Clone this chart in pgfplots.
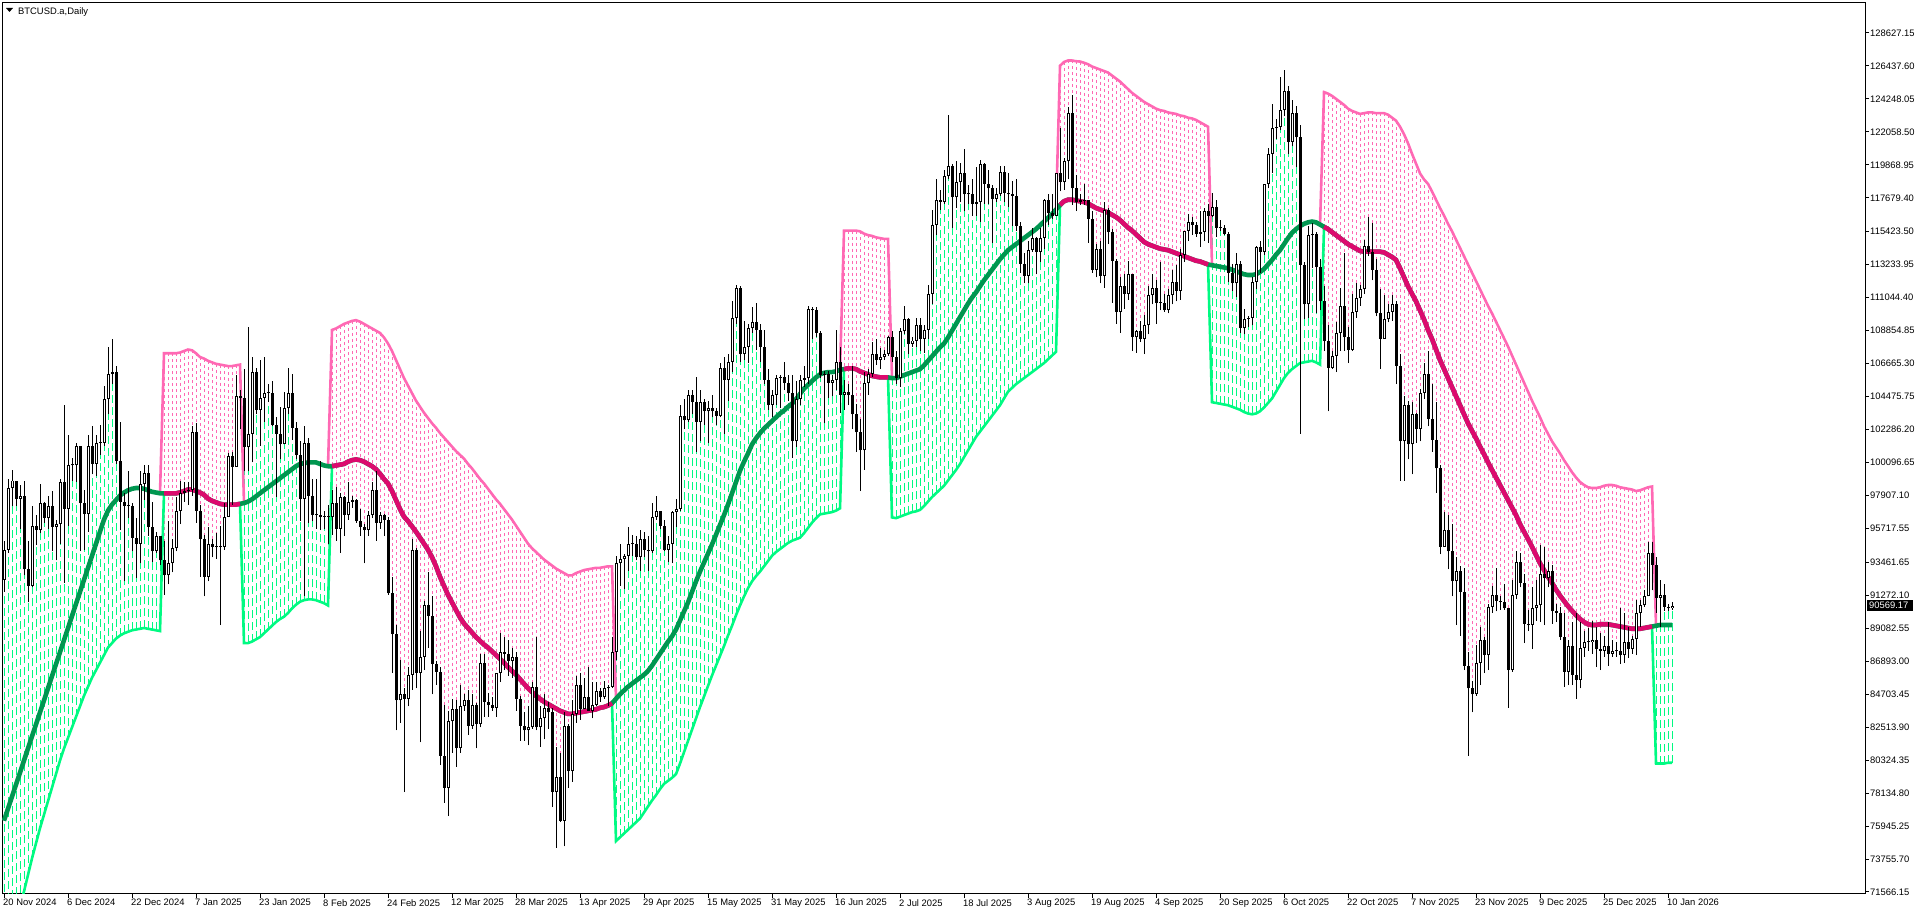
\documentclass[border=0pt]{standalone}
\usepackage{pgfplots}
\pgfplotsset{compat=1.18}
\usepackage{pgfplotstable}
\usepackage{fontspec}
\setmainfont{Liberation Sans}
\definecolor{mag}{RGB}{0,150,80}
\definecolor{mapk}{RGB}{220,10,110}
\definecolor{bgr}{RGB}{0,250,130}
\definecolor{bpk}{RGB}{255,105,180}
\pgfplotstableread{
i o h l c ma b st
0 92.3 94.9 91.5 94.3 76.3 66.8 1
1 94.3 99.0 94.1 98.4 77.1 67.8 1
2 98.4 99.6 97.2 98.9 77.9 68.8 1
3 98.9 98.9 97.2 97.7 78.7 69.8 1
4 97.7 98.6 95.7 97.9 79.5 70.7 1
5 97.9 98.9 92.6 93.0 80.3 71.6 1
6 93.0 94.9 90.8 91.9 81.1 72.7 1
7 91.9 97.2 91.8 95.9 81.9 73.8 1
8 95.9 96.6 94.6 95.6 82.7 74.8 1
9 95.6 98.7 95.4 97.4 83.5 75.8 1
10 97.4 97.5 96.1 96.4 84.3 76.7 1
11 96.4 97.9 95.7 97.2 85.1 77.6 1
12 97.2 98.2 94.2 95.8 85.9 78.5 1
13 95.8 96.3 93.6 96.0 86.7 79.4 1
14 96.0 99.0 94.7 98.8 87.5 80.3 1
15 98.8 103.9 92.1 97.0 88.3 81.1 1
16 97.0 101.9 95.9 99.9 89.1 81.8 1
17 99.9 100.4 98.9 99.9 89.9 82.5 1
18 99.9 101.4 98.8 101.2 90.7 83.2 1
19 101.2 101.2 94.2 97.4 91.5 83.9 1
20 97.4 98.3 94.3 96.7 92.3 84.6 1
21 96.7 101.9 95.5 101.2 93.1 85.2 1
22 101.2 102.5 99.3 100.0 93.9 85.8 1
23 100.0 101.9 99.2 101.4 94.7 86.3 1
24 101.4 102.6 100.6 101.4 95.5 86.8 1
25 101.4 105.2 101.2 104.3 96.3 87.3 1
26 104.3 107.8 103.3 106.0 96.9 87.8 1
27 106.0 108.3 105.3 106.1 97.3 88.1 1
28 106.1 106.5 100.0 100.2 97.6 88.4 1
29 100.2 102.8 95.6 97.5 97.9 88.6 1
30 97.5 98.1 92.2 97.2 98.1 88.75 1
31 97.2 99.5 96.4 97.2 98.25 88.85 1
32 97.2 97.4 94.2 95.1 98.35 88.95 1
33 95.1 96.4 92.4 94.7 98.4 89.0 1
34 94.7 99.5 93.4 98.7 98.4 89.05 1
35 98.7 99.9 97.6 99.4 98.35 89.1 1
36 99.4 99.9 95.2 95.8 98.25 89.05 1
37 95.8 97.5 93.5 94.2 98.15 89.0 1
38 94.2 95.5 94.1 95.2 98.1 88.95 1
39 95.2 95.2 93.3 93.6 98.05 88.9 1
40 93.6 94.9 91.3 92.6 98.05 107.35 -1
41 92.6 96.2 92.0 93.4 98.05 107.35 -1
42 93.4 95.0 92.8 94.4 98.05 107.35 -1
43 94.4 97.8 94.2 96.9 98.05 107.35 -1
44 96.9 98.9 96.0 98.1 98.1 107.4 -1
45 98.1 98.8 97.5 98.2 98.2 107.5 -1
46 98.2 98.8 97.3 98.3 98.3 107.6 -1
47 98.3 102.5 97.9 102.1 98.3 107.55 -1
48 102.1 102.7 96.1 96.9 98.2 107.35 -1
49 96.9 97.3 92.5 95.0 98.1 107.1 -1
50 95.0 95.3 91.2 92.5 97.95 107.0 -1
51 92.5 95.8 92.2 94.7 97.7 106.85 -1
52 94.7 95.0 93.8 94.5 97.55 106.75 -1
53 94.5 95.4 93.7 94.5 97.45 106.65 -1
54 94.5 95.9 89.3 94.5 97.35 106.6 -1
55 94.5 97.4 94.3 96.5 97.3 106.55 -1
56 96.5 100.7 96.5 100.5 97.3 106.5 -1
57 100.5 100.8 97.3 99.8 97.3 106.5 -1
58 99.8 105.9 99.8 104.5 97.3 106.55 -1
59 104.5 104.9 102.3 104.4 97.35 106.6 -1
60 104.4 106.3 99.5 101.1 97.4 88.1 1
61 101.1 109.1 99.5 102.0 97.5 88.1 1
62 102.0 107.1 100.1 106.1 97.65 88.2 1
63 106.1 106.4 103.3 103.6 97.85 88.35 1
64 103.6 106.9 101.2 104.4 98.05 88.5 1
65 104.4 107.1 102.8 104.7 98.25 88.75 1
66 104.7 105.3 104.1 104.7 98.45 89.0 1
67 104.7 105.5 102.5 102.6 98.65 89.25 1
68 102.6 103.1 97.8 102.0 98.85 89.5 1
69 102.0 103.8 100.3 101.3 99.05 89.7 1
70 101.3 104.8 101.3 103.7 99.25 89.85 1
71 103.7 106.4 103.3 104.7 99.45 90.1 1
72 104.7 106.0 101.6 102.4 99.65 90.4 1
73 102.4 102.8 100.3 100.6 99.85 90.65 1
74 100.6 101.5 96.2 97.7 100.0 90.85 1
75 97.7 102.5 91.2 101.4 100.05 90.95 1
76 101.4 101.7 96.1 97.9 100.1 91.0 1
77 97.9 99.0 96.2 96.6 100.1 91.0 1
78 96.6 99.0 95.7 96.6 100.1 90.95 1
79 96.6 100.2 95.6 96.5 100.0 90.85 1
80 96.5 96.9 95.7 96.5 99.9 90.75 1
81 96.5 97.3 94.7 96.5 99.85 90.6 1
82 96.5 98.3 95.3 97.4 99.85 108.9 -1
83 97.4 98.5 94.9 95.7 99.9 109.0 -1
84 95.7 98.1 94.1 97.8 99.95 109.15 -1
85 97.8 97.9 95.2 96.6 100.0 109.3 -1
86 96.6 98.8 96.3 97.5 100.15 109.4 -1
87 97.5 97.9 97.1 97.6 100.25 109.5 -1
88 97.6 97.7 96.1 96.2 100.3 109.55 -1
89 96.2 97.0 95.2 95.8 100.25 109.45 -1
90 95.8 96.0 93.4 95.6 100.15 109.3 -1
91 95.6 96.9 95.2 96.6 100.0 109.15 -1
92 96.6 98.8 96.4 98.3 99.85 109.0 -1
93 98.3 99.5 94.9 96.1 99.65 108.85 -1
94 96.1 96.8 95.7 96.6 99.35 108.7 -1
95 96.6 96.7 95.2 96.3 99.0 108.4 -1
96 96.3 96.5 91.3 91.4 98.7 108.0 -1
97 91.4 92.5 86.1 88.7 98.2 107.5 -1
98 88.7 89.3 82.3 84.3 97.6 106.9 -1
99 84.3 87.0 82.8 84.7 97.0 106.3 -1
100 84.7 85.1 78.2 84.4 96.5 105.7 -1
101 84.4 86.5 83.9 86.0 96.2 105.2 -1
102 86.0 95.0 85.0 94.3 95.85 104.7 -1
103 94.3 94.4 85.1 86.1 95.5 104.2 -1
104 86.1 88.9 81.5 87.2 95.1 103.8 -1
105 87.2 90.9 86.3 90.6 94.7 103.4 -1
106 90.6 92.8 87.8 89.9 94.3 103.05 -1
107 89.9 91.2 84.7 86.7 93.8 102.7 -1
108 86.7 86.9 85.3 86.2 93.2 102.4 -1
109 86.2 86.5 80.0 80.6 92.5 102.05 -1
110 80.6 84.0 77.5 78.5 91.9 101.75 -1
111 78.5 83.6 76.6 82.9 91.3 101.45 -1
112 82.9 84.4 80.8 83.7 90.8 101.15 -1
113 83.7 84.3 79.9 81.1 90.3 100.85 -1
114 81.1 85.3 80.8 83.9 89.8 100.6 -1
115 83.9 84.7 83.6 84.3 89.4 100.35 -1
116 84.3 85.0 82.0 82.6 89.1 100.0 -1
117 82.6 84.7 82.4 84.0 88.8 99.7 -1
118 84.0 84.1 81.1 82.7 88.5 99.35 -1
119 82.7 87.4 82.5 86.8 88.25 99.0 -1
120 86.8 87.4 83.2 84.2 88.0 98.7 -1
121 84.2 84.8 83.2 84.0 87.8 98.35 -1
122 84.0 84.5 83.6 83.8 87.55 98.0 -1
123 83.8 86.1 83.2 86.1 87.3 97.65 -1
124 86.1 88.8 85.5 87.5 87.05 97.35 -1
125 87.5 88.5 86.3 87.4 86.8 97.0 -1
126 87.4 88.3 85.9 86.9 86.5 96.65 -1
127 86.9 87.8 85.8 87.2 86.25 96.3 -1
128 87.2 87.5 83.6 84.4 86.0 95.9 -1
129 84.4 84.6 81.6 82.6 85.7 95.5 -1
130 82.6 83.5 81.6 82.3 85.4 95.1 -1
131 82.3 83.9 81.3 82.5 85.1 94.7 -1
132 82.5 85.5 82.4 85.2 84.85 94.4 -1
133 85.2 88.5 82.3 82.5 84.6 94.15 -1
134 82.5 83.9 81.2 83.1 84.4 93.9 -1
135 83.1 84.7 81.7 83.8 84.2 93.65 -1
136 83.8 84.2 82.4 83.5 84.05 93.45 -1
137 83.5 83.8 77.2 78.2 83.9 93.25 -1
138 78.2 81.2 74.5 79.2 83.75 93.05 -1
139 79.2 80.8 76.2 76.3 83.6 92.9 -1
140 76.3 83.5 74.6 82.6 83.5 92.75 -1
141 82.6 82.7 78.5 79.6 83.4 92.6 -1
142 79.6 84.3 78.9 83.4 83.4 92.6 -1
143 83.4 85.9 82.8 85.3 83.45 92.75 -1
144 85.3 86.1 83.0 83.7 83.5 92.85 -1
145 83.7 85.8 83.7 84.5 83.55 92.95 -1
146 84.5 86.5 83.6 83.6 83.6 93.0 -1
147 83.6 85.5 83.1 84.0 83.65 93.05 -1
148 84.0 85.5 83.9 84.9 83.7 93.1 -1
149 84.9 85.1 84.2 84.5 83.8 93.1 -1
150 84.5 85.6 84.4 85.1 83.85 93.15 -1
151 85.1 85.3 83.9 85.2 83.95 93.2 -1
152 85.2 88.5 85.1 87.5 84.1 93.2 -1
153 87.5 93.9 87.0 93.4 84.4 74.95 1
154 93.4 94.7 91.9 93.7 84.7 75.2 1
155 93.7 94.0 91.7 93.9 84.95 75.45 1
156 93.9 95.8 92.9 94.7 85.2 75.7 1
157 94.7 95.3 93.9 94.7 85.4 75.95 1
158 94.7 95.2 93.6 93.8 85.6 76.2 1
159 93.8 95.6 92.9 95.0 85.8 76.45 1
160 95.0 95.5 93.8 94.3 86.0 76.85 1
161 94.3 95.2 92.9 94.2 86.25 77.25 1
162 94.2 97.4 94.1 96.5 86.6 77.65 1
163 96.5 97.9 96.3 96.9 87.0 78.0 1
164 96.9 96.9 95.7 95.9 87.4 78.4 1
165 95.9 96.3 94.2 94.3 87.8 78.75 1
166 94.3 95.2 93.5 94.7 88.2 78.95 1
167 94.7 96.9 93.4 96.8 88.55 79.15 1
168 96.8 97.7 95.8 97.0 89.0 79.4 1
169 97.0 103.9 96.9 103.2 89.6 80.1 1
170 103.2 104.3 102.3 102.9 90.2 80.85 1
171 102.9 104.9 102.8 104.6 90.8 81.6 1
172 104.6 104.9 103.3 104.1 91.5 82.35 1
173 104.1 105.8 100.8 102.8 92.2 83.1 1
174 102.8 104.9 101.5 104.1 92.85 83.85 1
175 104.1 104.3 102.6 103.5 93.45 84.55 1
176 103.5 104.2 101.4 103.7 94.05 85.25 1
177 103.7 104.6 103.1 103.5 94.65 85.95 1
178 103.5 103.7 102.6 103.2 95.3 86.6 1
179 103.2 106.7 103.1 106.4 95.95 87.25 1
180 106.4 107.1 102.0 105.6 96.6 87.9 1
181 105.6 107.3 104.2 106.8 97.3 88.6 1
182 106.8 110.8 106.1 109.7 98.05 89.25 1
183 109.7 111.9 109.3 111.7 98.8 89.95 1
184 111.7 111.8 106.8 107.3 99.55 90.6 1
185 107.3 109.5 106.9 107.8 100.15 91.2 1
186 107.8 109.3 106.7 109.0 100.7 91.75 1
187 109.0 110.4 108.7 109.4 101.3 92.2 1
188 109.4 110.7 107.6 108.9 101.7 92.55 1
189 108.9 109.3 106.8 107.8 102.05 92.85 1
190 107.8 108.9 105.3 105.6 102.35 93.2 1
191 105.6 106.3 103.6 103.9 102.6 93.55 1
192 103.9 104.9 103.1 104.6 102.85 93.9 1
193 104.6 105.9 103.9 105.7 103.1 94.15 1
194 105.7 105.9 103.7 105.8 103.35 94.35 1
195 105.8 106.8 104.9 105.4 103.55 94.55 1
196 105.4 105.9 104.2 104.7 103.8 94.75 1
197 104.7 105.9 100.4 101.5 104.0 94.9 1
198 101.5 105.5 101.1 104.3 104.3 95.0 1
199 104.3 105.9 103.9 105.6 104.65 95.1 1
200 105.6 106.5 105.1 105.7 105.0 95.4 1
201 105.7 110.5 105.3 110.3 105.25 95.75 1
202 110.3 110.4 108.3 110.2 105.5 96.1 1
203 110.2 110.4 108.4 108.7 105.75 96.4 1
204 108.7 108.8 105.7 105.9 105.95 96.65 1
205 105.9 106.2 102.7 106.0 106.05 96.7 1
206 106.0 106.2 104.4 105.4 106.1 96.75 1
207 105.4 105.9 104.5 105.6 106.1 96.8 1
208 105.6 108.9 104.9 106.8 106.15 96.9 1
209 106.8 107.8 103.4 104.6 106.25 97.05 1
210 104.6 105.6 103.6 104.8 106.3 115.5 -1
211 104.8 105.3 103.9 104.6 106.35 115.5 -1
212 104.6 106.5 102.3 103.3 106.35 115.5 -1
213 103.3 104.0 100.8 102.1 106.3 115.5 -1
214 102.1 103.0 98.2 100.9 106.15 115.45 -1
215 100.9 106.1 99.6 105.4 106.05 115.3 -1
216 105.4 106.3 104.6 106.0 105.95 115.2 -1
217 106.0 108.1 105.8 107.3 105.85 115.15 -1
218 107.3 108.3 106.6 106.9 105.8 115.05 -1
219 106.9 107.7 106.3 107.1 105.75 115.0 -1
220 107.1 107.6 106.9 107.3 105.75 114.95 -1
221 107.3 108.5 107.2 108.4 105.75 114.95 -1
222 108.4 108.8 106.8 107.1 105.7 96.45 1
223 107.1 107.5 105.3 105.7 105.7 96.4 1
224 105.7 109.0 105.1 108.8 105.8 96.5 1
225 108.8 110.5 108.6 109.6 105.9 96.6 1
226 109.6 109.7 107.3 108.0 106.0 96.7 1
227 108.0 108.4 107.8 108.2 106.1 96.8 1
228 108.2 109.7 107.8 109.2 106.2 96.85 1
229 109.2 109.7 107.5 108.3 106.3 96.95 1
230 108.3 109.2 107.4 108.9 106.55 97.2 1
231 108.9 111.9 108.3 111.3 106.85 97.5 1
232 111.3 116.9 110.6 115.9 107.15 97.8 1
233 115.9 118.9 115.2 117.5 107.45 98.05 1
234 117.5 118.2 116.9 117.4 107.75 98.3 1
235 117.4 119.5 117.3 119.1 108.0 98.55 1
236 119.1 123.2 118.9 119.8 108.4 98.9 1
237 119.8 119.9 115.7 117.7 108.85 99.25 1
238 117.7 120.1 117.0 118.7 109.3 99.6 1
239 118.7 120.0 117.4 119.3 109.75 100.0 1
240 119.3 120.9 116.8 117.9 110.2 100.45 1
241 117.9 118.5 117.3 117.9 110.65 100.9 1
242 117.9 118.9 116.5 117.3 111.05 101.35 1
243 117.3 119.7 116.5 117.4 111.4 101.8 1
244 117.4 120.2 116.1 119.9 111.8 102.15 1
245 119.9 120.0 117.3 118.6 112.2 102.5 1
246 118.6 119.5 117.3 118.3 112.55 102.85 1
247 118.3 118.5 114.7 117.6 112.9 103.2 1
248 117.6 118.3 117.4 117.9 113.25 103.55 1
249 117.9 119.8 117.8 119.4 113.6 103.9 1
250 119.4 119.8 117.4 118.0 113.9 104.35 1
251 118.0 119.3 117.1 117.9 114.2 104.8 1
252 117.9 118.8 115.8 117.8 114.4 105.05 1
253 117.8 118.9 115.5 115.8 114.6 105.3 1
254 115.8 116.1 112.7 113.3 114.8 105.5 1
255 113.3 114.0 112.0 112.5 115.0 105.7 1
256 112.5 114.8 112.0 114.2 115.2 105.9 1
257 114.2 115.7 114.1 115.0 115.4 106.1 1
258 115.0 115.1 112.6 114.1 115.6 106.3 1
259 114.1 115.7 113.4 115.0 115.85 106.5 1
260 115.0 117.6 114.3 117.5 116.1 106.7 1
261 117.5 117.9 115.9 116.7 116.35 106.95 1
262 116.7 117.9 116.3 116.5 116.6 107.2 1
263 116.5 119.3 116.5 119.3 116.9 107.45 1
264 119.3 122.3 118.1 118.7 117.2 126.45 -1
265 118.7 120.3 118.2 120.1 117.45 126.7 -1
266 120.1 123.7 118.9 123.3 117.55 126.8 -1
267 123.3 124.5 117.2 118.3 117.55 126.8 -1
268 118.3 119.2 116.8 117.4 117.5 126.75 -1
269 117.4 117.9 117.2 117.5 117.45 126.73 -1
270 117.5 118.6 117.2 117.5 117.4 126.65 -1
271 117.5 117.5 114.7 116.3 117.3 126.55 -1
272 116.3 116.8 112.7 112.9 117.15 126.4 -1
273 112.9 114.6 112.4 114.3 117.0 126.3 -1
274 114.3 114.8 112.0 112.5 116.9 126.2 -1
275 112.5 117.4 111.7 116.9 116.8 126.1 -1
276 116.9 117.0 114.6 115.4 116.7 126.0 -1
277 115.4 115.6 110.7 113.5 116.55 125.8 -1
278 113.5 113.6 109.3 110.1 116.4 125.6 -1
279 110.1 112.4 108.7 111.8 116.2 125.4 -1
280 111.8 112.6 110.3 111.3 115.95 125.15 -1
281 111.3 113.5 110.9 112.6 115.7 124.9 -1
282 112.6 112.6 107.5 108.4 115.5 124.65 -1
283 108.4 108.9 107.4 108.8 115.25 124.45 -1
284 108.8 109.5 108.1 108.3 115.0 124.25 -1
285 108.3 109.9 107.3 109.2 114.75 124.05 -1
286 109.2 111.8 108.6 111.2 114.6 123.9 -1
287 111.2 112.6 110.6 111.7 114.5 123.75 -1
288 111.7 112.2 109.3 110.7 114.4 123.6 -1
289 110.7 113.4 110.2 110.7 114.3 123.5 -1
290 110.7 111.3 110.1 110.2 114.25 123.45 -1
291 110.2 111.6 110.0 111.2 114.2 123.35 -1
292 111.2 112.9 110.6 112.1 114.1 123.3 -1
293 112.1 113.2 110.8 111.5 114.0 123.25 -1
294 111.5 114.3 110.9 113.9 113.9 123.15 -1
295 113.9 115.5 113.4 115.5 113.8 123.1 -1
296 115.5 116.6 114.8 116.1 113.7 123.0 -1
297 116.1 116.4 115.2 115.9 113.6 122.95 -1
298 115.9 116.1 115.1 115.3 113.5 122.85 -1
299 115.3 116.8 114.4 115.4 113.45 122.7 -1
300 115.4 117.0 114.8 116.8 113.35 122.55 -1
301 116.8 117.3 114.7 116.5 113.25 122.4 -1
302 116.5 118.0 116.4 117.1 113.2 104.1 1
303 117.1 117.5 115.1 115.7 113.15 104.05 1
304 115.7 116.2 115.5 115.7 113.1 104.0 1
305 115.7 115.9 115.2 115.3 113.05 103.95 1
306 115.3 115.4 112.1 112.7 113.0 103.9 1
307 112.7 113.3 111.5 112.0 112.9 103.8 1
308 112.0 114.0 111.1 113.3 112.8 103.7 1
309 113.3 113.5 108.7 109.0 112.7 103.6 1
310 109.0 110.3 108.6 109.6 112.6 103.45 1
311 109.6 109.8 109.1 109.7 112.55 103.35 1
312 109.7 112.4 109.2 112.1 112.55 103.3 1
313 112.1 114.5 111.6 114.4 112.6 103.35 1
314 114.4 114.8 112.7 114.1 112.75 103.5 1
315 114.1 118.6 113.9 118.6 112.95 103.75 1
316 118.6 121.0 118.3 120.6 113.25 104.05 1
317 120.6 123.9 119.3 122.3 113.55 104.35 1
318 122.3 122.9 121.6 122.4 113.9 104.8 1
319 122.4 125.7 122.2 123.5 114.2 105.25 1
320 123.5 126.2 123.1 124.8 114.6 105.7 1
321 124.8 125.1 120.6 121.4 115.0 106.05 1
322 121.4 124.2 121.1 123.3 115.35 106.3 1
323 123.3 123.8 119.7 121.7 115.6 106.5 1
324 121.7 122.5 102.0 113.2 115.8 106.7 1
325 113.2 113.4 109.6 110.6 115.95 106.75 1
326 110.6 115.8 109.7 115.2 116.05 106.8 1
327 115.2 116.0 113.0 115.3 116.1 106.85 1
328 115.3 115.4 110.0 113.1 116.05 106.75 1
329 113.1 113.6 110.2 110.8 115.9 106.6 1
330 110.8 111.8 107.5 108.2 115.75 124.7 -1
331 108.2 109.2 103.5 106.4 115.6 124.6 -1
332 106.4 107.5 106.3 107.2 115.4 124.45 -1
333 107.2 109.4 106.1 108.7 115.2 124.25 -1
334 108.7 111.7 107.5 110.5 115.0 124.05 -1
335 110.5 114.0 107.5 108.4 114.8 123.85 -1
336 108.4 109.1 106.7 107.6 114.6 123.6 -1
337 107.6 111.3 107.5 110.1 114.45 123.45 -1
338 110.1 112.0 109.7 111.0 114.3 123.35 -1
339 111.0 111.9 110.5 111.6 114.15 123.25 -1
340 111.6 114.9 111.3 114.5 114.1 123.3 -1
341 114.5 116.4 113.8 114.1 114.1 123.35 -1
342 114.1 116.0 112.2 112.9 114.1 123.35 -1
343 112.9 113.6 109.8 110.0 114.1 123.3 -1
344 110.0 111.6 106.3 108.3 114.1 123.3 -1
345 108.3 111.2 108.3 109.6 114.05 123.3 -1
346 109.6 110.6 109.4 110.1 113.9 123.2 -1
347 110.1 111.2 109.5 110.6 113.75 123.0 -1
348 110.6 110.8 105.3 106.5 113.55 122.8 -1
349 106.5 107.3 98.9 101.5 113.0 122.4 -1
350 101.5 104.5 98.9 103.9 112.4 121.9 -1
351 103.9 104.2 100.3 101.3 111.8 121.3 -1
352 101.3 104.1 99.3 103.3 111.3 120.6 -1
353 103.3 103.4 101.4 102.3 110.8 119.95 -1
354 102.3 105.0 101.5 104.7 110.2 119.3 -1
355 104.7 106.7 104.3 106.0 109.6 118.9 -1
356 106.0 107.5 102.5 103.0 108.9 118.6 -1
357 103.0 105.3 100.8 101.6 108.3 118.1 -1
358 101.6 104.1 98.1 99.7 107.6 117.55 -1
359 99.7 99.9 94.0 94.5 106.9 117.0 -1
360 94.5 96.8 94.5 95.6 106.3 116.5 -1
361 95.6 96.6 93.0 94.2 105.7 115.95 -1
362 94.2 96.0 91.2 92.2 105.1 115.45 -1
363 92.2 93.8 89.3 92.9 104.5 114.9 -1
364 92.9 93.2 88.6 91.5 103.9 114.35 -1
365 91.5 93.1 86.3 86.6 103.3 113.8 -1
366 86.6 87.5 80.6 85.1 102.7 113.25 -1
367 85.1 85.6 83.5 84.7 102.2 112.7 -1
368 84.7 88.0 84.6 86.8 101.7 112.15 -1
369 86.8 89.2 85.3 88.3 101.15 111.6 -1
370 88.3 88.5 86.1 87.3 100.65 111.05 -1
371 87.3 90.7 86.3 90.5 100.1 110.5 -1
372 90.5 91.9 90.1 91.3 99.6 110.0 -1
373 91.3 93.1 90.2 90.9 99.1 109.45 -1
374 90.9 91.2 90.3 90.8 98.6 108.9 -1
375 90.8 92.0 90.3 90.4 98.1 108.35 -1
376 90.4 90.4 83.8 86.3 97.6 107.8 -1
377 86.3 92.3 86.2 91.3 97.1 107.2 -1
378 91.3 94.2 91.0 93.5 96.6 106.6 -1
379 93.5 94.1 91.8 92.1 96.0 106.0 -1
380 92.1 92.7 88.1 89.4 95.5 105.4 -1
381 89.4 90.3 88.9 89.3 95.0 104.8 -1
382 89.3 91.8 87.7 90.4 94.5 104.2 -1
383 90.4 92.3 89.6 90.6 93.95 103.65 -1
384 90.6 94.6 89.5 92.7 93.4 103.1 -1
385 92.7 94.5 89.3 92.4 92.95 102.5 -1
386 92.4 93.5 91.8 92.9 92.5 102.0 -1
387 92.9 93.3 89.4 90.2 92.1 101.5 -1
388 90.2 90.7 89.5 90.1 91.65 101.1 -1
389 90.1 90.5 88.3 88.5 91.25 100.7 -1
390 88.5 90.1 85.2 86.2 90.9 100.25 -1
391 86.2 88.3 85.3 87.9 90.55 99.85 -1
392 87.9 89.5 85.3 86.0 90.25 99.45 -1
393 86.0 90.1 84.4 85.65 89.95 99.1 -1
394 85.65 89.5 85.1 87.8 89.7 98.8 -1
395 87.8 88.9 87.2 88.2 89.5 98.6 -1
396 88.2 89.1 87.6 88.15 89.35 98.45 -1
397 88.15 89.6 87.4 88.3 89.3 98.4 -1
398 88.3 89.2 86.5 87.7 89.3 98.4 -1
399 87.7 88.8 86.3 87.6 89.35 98.45 -1
400 87.6 88.6 87.2 87.9 89.35 98.55 -1
401 87.9 89.5 86.6 87.4 89.35 98.6 -1
402 87.4 88.3 87.2 87.6 89.3 98.6 -1
403 87.6 88.2 87.2 87.55 89.25 98.55 -1
404 87.55 90.4 86.7 87.3 89.2 98.45 -1
405 87.3 90.1 86.8 88.2 89.15 98.4 -1
406 88.2 89.2 87.1 87.7 89.1 98.35 -1
407 87.7 88.6 87.4 88.35 89.05 98.3 -1
408 88.35 90.96 87.3 90.1 89.05 98.2 -1
409 90.1 90.96 89.2 90.6 89.05 98.25 -1
410 90.6 91.6 90.5 91.2 89.1 98.35 -1
411 91.2 94.8 91.2 94.1 89.15 98.45 -1
412 94.1 94.8 91.6 93.3 89.2 98.5 -1
413 93.3 93.8 90.1 91.1 89.25 80.1 1
414 91.1 92.3 89.2 91.3 89.3 80.1 1
415 91.3 92.0 90.25 90.5 89.3 80.1 1
416 90.5 90.7 90.25 90.4 89.3 80.15 1
417 90.4 90.8 90.3 90.57 89.3 80.15 1
}\data

% build one path per series (vertical segments separated by jumps)
\pgfplotstablegetrowsof{\data}
\pgfmathtruncatemacro{\nlast}{\pgfplotsretval-1}
\gdef\wick{}\gdef\bblk{}\gdef\bwht{}\gdef\dpk{}\gdef\dgr{}
\foreach \r in {0,...,\nlast}{%
  \pgfplotstablegetelem{\r}{i}\of\data\let\vi\pgfplotsretval
  \pgfplotstablegetelem{\r}{o}\of\data\let\vo\pgfplotsretval
  \pgfplotstablegetelem{\r}{h}\of\data\let\vh\pgfplotsretval
  \pgfplotstablegetelem{\r}{l}\of\data\let\vl\pgfplotsretval
  \pgfplotstablegetelem{\r}{c}\of\data\let\vc\pgfplotsretval
  \pgfplotstablegetelem{\r}{b}\of\data\let\vb\pgfplotsretval
  \pgfplotstablegetelem{\r}{st}\of\data\let\vs\pgfplotsretval
  \xdef\wick{\wick(\vi,\vl)(\vi,\vh)(\vi,nan)}%
  \pgfmathsetmacro\lo{min(\vo,\vc)}%
  \pgfmathsetmacro\hi{max(max(\vo,\vc),\lo+0.066)}%
  \xdef\bblk{\bblk(\vi,\lo)(\vi,\hi)(\vi,nan)}%
  \pgfmathtruncatemacro\flag{(\vc-\vo)>0.14}%
  \ifnum\flag=1
    \pgfmathsetmacro\wl{\vo+0.066}\pgfmathsetmacro\wh{\vc-0.066}%
    \xdef\bwht{\bwht(\vi,\wl)(\vi,\wh)(\vi,nan)}%
  \fi
  \ifnum\vs>0
    \xdef\dgr{\dgr(\vi,\vb)(\vi,\vc)(\vi,nan)}%
  \else
    \xdef\dpk{\dpk(\vi,\vb)(\vi,\vc)(\vi,nan)}%
  \fi
}

\begin{document}
\begin{tikzpicture}
\path[use as bounding box] (-2bp,-21bp) rectangle (1914bp,894bp);
\begin{axis}[
  at={(0,0)}, anchor=south west,
  scale only axis, width=1863bp, height=891bp,
  xmin=-0.5, xmax=465.25, ymin=71.4327, ymax=130.620,
  axis line style={black, line width=1bp},
  tick align=outside, major tick length=4bp,
  tick style={black, line width=1bp},
  xtick pos=left, ytick pos=right, yticklabel pos=right,
  xtick={0,16,...,416},
  xticklabels={20 Nov 2024,6 Dec 2024,22 Dec 2024,7 Jan 2025,23 Jan 2025,8 Feb 2025,24 Feb 2025,12 Mar 2025,28 Mar 2025,13 Apr 2025,29 Apr 2025,15 May 2025,31 May 2025,16 Jun 2025,2 Jul 2025,18 Jul 2025,3 Aug 2025,19 Aug 2025,4 Sep 2025,20 Sep 2025,6 Oct 2025,22 Oct 2025,7 Nov 2025,23 Nov 2025,9 Dec 2025,25 Dec 2025,10 Jan 2026},
  ytick={128.62715,126.4376,124.24805,122.0585,119.86895,117.6794,115.4235,113.23395,111.0444,108.85485,106.6653,104.47575,102.2862,100.09665,97.9071,95.71755,93.46165,91.2721,89.08255,86.893,84.70345,82.5139,80.32435,78.1348,75.94525,73.7557,71.56615},
  yticklabels={128627.15,126437.60,124248.05,122058.50,119868.95,117679.40,115423.50,113233.95,111044.40,108854.85,106665.30,104475.75,102286.20,100096.65,97907.10,95717.55,93461.65,91272.10,89082.55,86893.00,84703.45,82513.90,80324.35,78134.80,75945.25,73755.70,71566.15},
  xticklabel style={anchor=north west, inner sep=0pt, xshift=-1bp, yshift=-1bp, font=\fontsize{9.4bp}{11bp}\selectfont},
  yticklabel style={anchor=west, inner sep=0pt, xshift=1bp, font=\fontsize{9.4bp}{11bp}\selectfont},
  unbounded coords=jump,
]
% histogram dashes
\edef\doplot{\noexpand\addplot[draw=bpk, line width=1bp, dash pattern=on 3bp off 3bp, mark=none] coordinates {\dpk};}\doplot
\edef\doplot{\noexpand\addplot[draw=bgr, line width=1bp, dash pattern=on 8bp off 4bp, mark=none] coordinates {\dgr};}\doplot
% band lines
\addplot[bpk, line width=2.6bp, mark=none] table[x=i, y expr={\thisrow{st}<0 ? \thisrow{b} : \thisrow{ma}}] {\data};
\addplot[bgr, line width=2.6bp, mark=none] table[x=i, y expr={\thisrow{st}>0 ? \thisrow{b} : \thisrow{ma}}] {\data};
% moving average
\addplot[mag, line width=4.6bp, mark=none] table[x=i, y=ma] {\data};
\addplot[mapk, line width=4.6bp, mark=none, restrict expr to domain={\thisrow{st}}{-2:0}] table[x=i, y=ma] {\data};
% candles
\edef\doplot{\noexpand\addplot[draw=black, line width=1bp, mark=none] coordinates {\wick};}\doplot
\edef\doplot{\noexpand\addplot[draw=black, line width=3bp, mark=none] coordinates {\bblk};}\doplot
\edef\doplot{\noexpand\addplot[draw=white, line width=1bp, mark=none] coordinates {\bwht};}\doplot
\end{axis}
% title
\fill[black] (4bp,886bp) -- (11bp,886bp) -- (7.5bp,882bp) -- cycle;
\node[anchor=base west, inner sep=0pt, font=\fontsize{9.4bp}{11bp}\selectfont] at (16bp,879.5bp) {BTCUSD.a,Daily};
% current price label
\fill[black] (1865bp,283bp) rectangle (1911bp,294bp);
\node[anchor=west, inner sep=0pt, text=white, font=\fontsize{9.4bp}{11bp}\selectfont] at (1867bp,288.5bp) {90569.17};
\end{tikzpicture}
\end{document}
